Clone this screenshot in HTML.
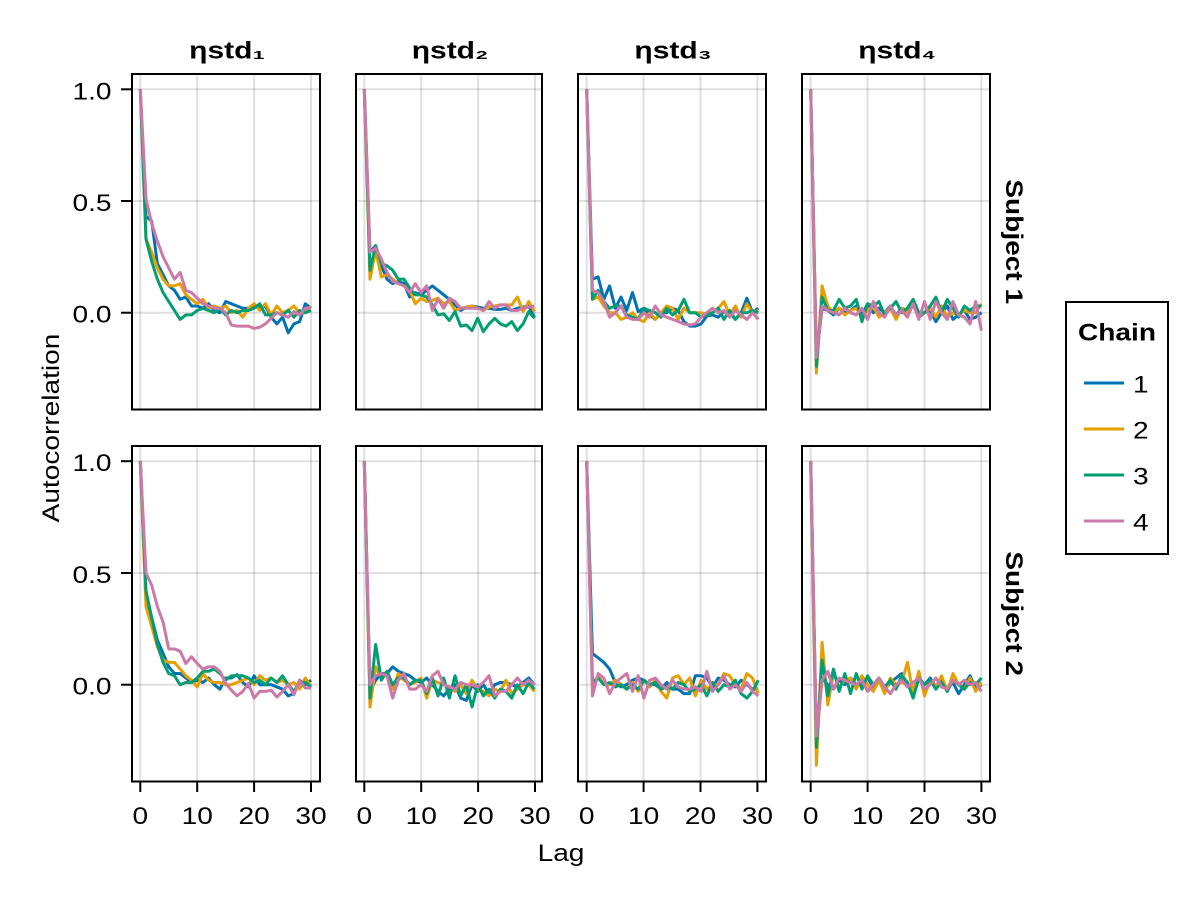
<!DOCTYPE html>
<html>
<head>
<meta charset="utf-8">
<style>
html,body{margin:0;padding:0;background:#fff;}
svg{display:block;}
text{font-family:"Liberation Sans","DejaVu Sans",sans-serif;font-size:24px;fill:#000;}
.b{font-weight:bold;}
.s{fill:none;stroke-width:3;vector-effect:non-scaling-stroke;stroke-linejoin:round;stroke-linecap:butt;}
.c1{stroke:#0072B2;}.c2{stroke:#E69F00;}.c3{stroke:#009E73;}.c4{stroke:#CC79A7;}
.g{stroke:rgba(0,0,0,0.12);stroke-width:2;}
.sp{fill:none;stroke:#000;stroke-width:2;}
.tk{stroke:#000;stroke-width:2;}
</style>
</head>
<body>
<svg width="1200" height="900" viewBox="0 0 1200 900" xmlns="http://www.w3.org/2000/svg">
<rect width="1200" height="900" fill="#fff"/>

<!-- grid lines -->
<g class="g">
<line x1="132" x2="320" y1="89.3" y2="89.3"/><line x1="132" x2="320" y1="201" y2="201"/><line x1="132" x2="320" y1="312.7" y2="312.7"/>
<line x1="356" x2="542" y1="89.3" y2="89.3"/><line x1="356" x2="542" y1="201" y2="201"/><line x1="356" x2="542" y1="312.7" y2="312.7"/>
<line x1="578" x2="766" y1="89.3" y2="89.3"/><line x1="578" x2="766" y1="201" y2="201"/><line x1="578" x2="766" y1="312.7" y2="312.7"/>
<line x1="802" x2="990" y1="89.3" y2="89.3"/><line x1="802" x2="990" y1="201" y2="201"/><line x1="802" x2="990" y1="312.7" y2="312.7"/>
<line x1="132" x2="320" y1="461.2" y2="461.2"/><line x1="132" x2="320" y1="573" y2="573"/><line x1="132" x2="320" y1="684.7" y2="684.7"/>
<line x1="356" x2="542" y1="461.2" y2="461.2"/><line x1="356" x2="542" y1="573" y2="573"/><line x1="356" x2="542" y1="684.7" y2="684.7"/>
<line x1="578" x2="766" y1="461.2" y2="461.2"/><line x1="578" x2="766" y1="573" y2="573"/><line x1="578" x2="766" y1="684.7" y2="684.7"/>
<line x1="802" x2="990" y1="461.2" y2="461.2"/><line x1="802" x2="990" y1="573" y2="573"/><line x1="802" x2="990" y1="684.7" y2="684.7"/>
<line x1="140.3" x2="140.3" y1="74" y2="409.5"/><line x1="197.2" x2="197.2" y1="74" y2="409.5"/><line x1="254.1" x2="254.1" y1="74" y2="409.5"/><line x1="311" x2="311" y1="74" y2="409.5"/>
<line x1="364.3" x2="364.3" y1="74" y2="409.5"/><line x1="421.2" x2="421.2" y1="74" y2="409.5"/><line x1="478.1" x2="478.1" y1="74" y2="409.5"/><line x1="535" x2="535" y1="74" y2="409.5"/>
<line x1="586.7" x2="586.7" y1="74" y2="409.5"/><line x1="643.6" x2="643.6" y1="74" y2="409.5"/><line x1="700.5" x2="700.5" y1="74" y2="409.5"/><line x1="757.4" x2="757.4" y1="74" y2="409.5"/>
<line x1="810.7" x2="810.7" y1="74" y2="409.5"/><line x1="867.6" x2="867.6" y1="74" y2="409.5"/><line x1="924.5" x2="924.5" y1="74" y2="409.5"/><line x1="981.4" x2="981.4" y1="74" y2="409.5"/>
<line x1="140.3" x2="140.3" y1="446" y2="781.5"/><line x1="197.2" x2="197.2" y1="446" y2="781.5"/><line x1="254.1" x2="254.1" y1="446" y2="781.5"/><line x1="311" x2="311" y1="446" y2="781.5"/>
<line x1="364.3" x2="364.3" y1="446" y2="781.5"/><line x1="421.2" x2="421.2" y1="446" y2="781.5"/><line x1="478.1" x2="478.1" y1="446" y2="781.5"/><line x1="535" x2="535" y1="446" y2="781.5"/>
<line x1="586.7" x2="586.7" y1="446" y2="781.5"/><line x1="643.6" x2="643.6" y1="446" y2="781.5"/><line x1="700.5" x2="700.5" y1="446" y2="781.5"/><line x1="757.4" x2="757.4" y1="446" y2="781.5"/>
<line x1="810.7" x2="810.7" y1="446" y2="781.5"/><line x1="867.6" x2="867.6" y1="446" y2="781.5"/><line x1="924.5" x2="924.5" y1="446" y2="781.5"/><line x1="981.4" x2="981.4" y1="446" y2="781.5"/>
</g>

<!-- R1C1 -->
<g transform="translate(140.3,312.7) scale(5.69,-223.5)">
<polyline class="s c1" points="0,1 1,.43 2,.41 3,.22 4,.17 5,.12 6,.10 7,.06 8,.07 9,.03 10,.03 11,.02 12,.04 13,.01 14,0 15,.05 16,.04 17,.03 18,.02 19,.02 20,.03 21,.02 22,.03 23,-.02 24,-.05 25,-.02 26,-.09 27,-.05 28,-.04 29,.04 30,.02"/>
<polyline class="s c2" points="0,1 1,.33 2,.27 3,.20 4,.15 5,.12 6,.12 7,.13 8,.08 9,.06 10,.04 11,.06 12,.02 13,.03 14,.02 15,.03 16,0 17,.01 18,-.02 19,.02 20,.04 21,.01 22,.04 23,-.01 24,.03 25,0 26,.01 27,.03 28,0 29,0 30,.03"/>
<polyline class="s c3" points="0,1 1,.33 2,.23 3,.15 4,.09 5,.05 6,.01 7,-.03 8,-.01 9,-.01 10,.01 11,.02 12,.01 13,0 14,.02 15,-.01 16,.01 17,0 18,.01 19,.01 20,.02 21,.04 22,-.01 23,-.01 24,0 25,-.01 26,.01 27,-.02 28,.01 29,0 30,.01"/>
<polyline class="s c4" points="0,1 1,.51 2,.40 3,.32 4,.25 5,.20 6,.15 7,.18 8,.10 9,.09 10,.065 11,.04 12,.03 13,.02 14,.02 15,0 16,-.055 17,-.06 18,-.06 19,-.06 20,-.07 21,-.065 22,-.05 23,-.025 24,0 25,-.01 26,-.02 27,.005 28,-.01 29,.02 30,.02"/>
</g>
<!-- R1C2 -->
<g transform="translate(364.3,312.7) scale(5.67,-223.5)">
<polyline class="s c1" points="0,1 1,.27 2,.30 3,.21 4,.15 5,.13 6,.14 7,.13 8,.07 9,.09 10,.08 11,.10 12,.12 13,.10 14,.08 15,.06 16,.035 17,.01 18,.025 19,.03 20,.025 21,.02 22,.02 23,.015 24,.015 25,.02 26,.01 27,.02 28,.025 29,.03 30,-.02"/>
<polyline class="s c2" points="0,1 1,.15 2,.28 3,.16 4,.17 5,.15 6,.13 7,.12 8,.10 9,.04 10,.065 11,.05 12,.055 13,.065 14,.04 15,.05 16,.01 17,.02 18,.025 19,.03 20,.02 21,.01 22,.027 23,.03 24,.035 25,.035 26,.035 27,.07 28,.005 29,.05 30,.005"/>
<polyline class="s c3" points="0,1 1,.19 2,.30 3,.22 4,.21 5,.19 6,.15 7,.15 8,.11 9,.08 10,.08 11,.07 12,.035 13,-.01 14,-.005 15,-.035 16,.005 17,-.06 18,-.055 19,-.08 20,-.025 21,-.085 22,-.05 23,-.025 24,-.05 25,-.06 26,-.04 27,-.08 28,-.05 29,.005 30,-.025"/>
<polyline class="s c4" points="0,1 1,.27 2,.29 3,.24 4,.18 5,.14 6,.13 7,.12 8,.09 9,.13 10,.09 11,.12 12,.01 13,.06 14,.02 15,.065 16,.05 17,.02 18,.02 19,.02 20,.02 21,.01 22,.05 23,.02 24,.035 25,.035 26,.01 27,.01 28,.02 29,.025 30,.03"/>
</g>
<!-- R1C3 -->
<g transform="translate(586.7,312.7) scale(5.72,-223.5)">
<polyline class="s c1" points="0,1 1,.15 2,.16 3,.06 4,.12 5,.02 6,.07 7,.01 8,.09 9,.005 10,.02 11,-.01 12,-.03 13,0 14,0 15,.02 16,.01 17,-.04 18,-.06 19,-.06 20,-.05 21,-.015 22,-.01 23,-.02 24,.005 25,0 26,-.03 27,0 28,.065 29,0 30,.02"/>
<polyline class="s c2" points="0,1 1,.06 2,.07 3,.03 4,0 5,0 6,-.03 7,-.02 8,0 9,-.03 10,-.04 11,0 12,-.03 13,0 14,.03 15,.02 16,-.03 17,.02 18,0 19,0 20,0 21,-.01 22,0 23,.02 24,.05 25,-.01 26,.03 27,-.02 28,.04 29,0 30,.01"/>
<polyline class="s c3" points="0,1 1,.06 2,.10 3,.05 4,.02 5,.03 6,.03 7,-.01 8,-.02 9,-.03 10,.02 11,.01 12,0 13,-.02 14,.02 15,-.01 16,.01 17,.06 18,0 19,0 20,-.02 21,-.01 22,0 23,.02 24,-.03 25,.01 26,-.03 27,0 28,0 29,.01 30,0"/>
<polyline class="s c4" points="0,1 1,.10 2,.09 3,.05 4,-.02 5,0 6,.03 7,-.02 8,-.03 9,-.03 10,0 11,-.02 12,.03 13,-.01 14,-.02 15,-.03 16,-.04 17,-.05 18,-.055 19,-.05 20,-.02 21,0 22,.02 23,0 24,.01 25,-.02 26,.01 27,-.01 28,-.03 29,0 30,-.03"/>
</g>
<!-- R1C4 -->
<g transform="translate(810.7,312.7) scale(5.69,-223.5)">
<polyline class="s c1" points="0,1 1,-.2 2,.02 3,.01 4,-.01 5,.02 6,0 7,.01 8,.03 9,-.01 10,.04 11,0 12,.02 13,0 14,.03 15,-.01 16,.02 17,.01 18,.04 19,-.02 20,0 21,.01 22,-.04 23,0 24,.03 25,-.03 26,-.01 27,.01 28,-.03 29,-.02 30,0"/>
<polyline class="s c2" points="0,1 1,-.27 2,.12 3,.03 4,0 5,.02 6,-.01 7,.01 8,.02 9,-.02 10,.01 11,.03 12,-.02 13,0 14,.02 15,-.03 16,.02 17,0 18,.03 19,-.01 20,0 21,.02 22,-.02 23,.03 24,-.02 25,0 26,-.01 27,.01 28,0 29,0 30,.04"/>
<polyline class="s c3" points="0,1 1,-.24 2,.07 3,.01 4,.01 5,.06 6,.02 7,.03 8,.06 9,-.04 10,.04 11,.03 12,.05 13,-.01 14,.02 15,.05 16,0 17,.02 18,.06 19,0 20,0 21,.03 22,.07 23,0 24,.06 25,.02 26,-.02 27,.03 28,.01 29,.03 30,.03"/>
<polyline class="s c4" points="0,1 1,-.2 2,.03 3,.01 4,0 5,-.01 6,.02 7,0 8,-.01 9,.02 10,-.03 11,.05 12,0 13,-.02 14,.03 15,-.01 16,.01 17,-.02 18,.04 19,-.03 20,.05 21,-.03 22,.05 23,0 24,-.03 25,.05 26,-.01 27,-.02 28,-.05 29,.05 30,-.08"/>
</g>

<!-- R2C1 -->
<g transform="translate(140.3,684.7) scale(5.69,-223.5)">
<polyline class="s c1" points="0,1 1,.38 2,.30 3,.20 4,.14 5,.08 6,.05 7,.05 8,.03 9,.01 10,.02 11,.01 12,.03 13,0 14,-.02 15,.03 16,.03 17,.045 18,.01 19,-.01 20,.04 21,0 22,0 23,0 24,-.01 25,-.02 26,-.05 27,-.04 28,.02 29,0 30,.02"/>
<polyline class="s c2" points="0,1 1,.35 2,.26 3,.17 4,.11 5,.10 6,.10 7,.07 8,.04 9,.02 10,-.01 11,.05 12,.02 13,.01 14,.01 15,0 16,0 17,.01 18,.02 19,.03 20,0 21,.04 22,.02 23,.03 24,.01 25,.02 26,0 27,.01 28,-.02 29,.03 30,-.01"/>
<polyline class="s c3" points="0,1 1,.42 2,.30 3,.18 4,.10 5,.05 6,.04 7,0 8,.01 9,.01 10,.03 11,.06 12,.06 13,.07 14,.05 15,.02 16,.04 17,.04 18,.04 19,.03 20,.01 21,.02 22,0 23,.03 24,.01 25,.04 26,0 27,-.03 28,.01 29,.01 30,-.01"/>
<polyline class="s c4" points="0,1 1,.50 2,.445 3,.35 4,.28 5,.16 6,.16 7,.15 8,.095 9,.125 10,.095 11,.07 12,.08 13,.08 14,.06 15,.006 16,-.025 17,-.05 18,-.03 19,.005 20,-.06 21,-.03 22,-.03 23,-.025 24,-.055 25,-.03 26,0 27,-.045 28,.02 29,-.015 30,-.015"/>
</g>
<!-- R2C2 -->
<g transform="translate(364.3,684.7) scale(5.67,-223.5)">
<polyline class="s c1" points="0,1 1,-.03 2,.02 3,.05 4,.05 5,.08 6,.06 7,.05 8,.04 9,.02 10,.01 11,.03 12,0 13,-.03 14,-.05 15,-.02 16,0 17,-.06 18,-.07 19,0 20,-.03 21,0 22,-.04 23,0 24,.01 25,.01 26,0 27,-.01 28,.01 29,.03 30,0"/>
<polyline class="s c2" points="0,1 1,-.10 2,.08 3,.03 4,.06 5,-.02 6,.05 7,.02 8,0 9,.01 10,.03 11,-.06 12,.02 13,.01 14,0 15,-.01 16,-.03 17,0 18,-.04 19,.02 20,-.02 21,-.03 22,-.05 23,-.02 24,-.03 25,.02 26,-.04 27,-.02 28,0 29,0 30,-.03"/>
<polyline class="s c3" points="0,1 1,-.06 2,.18 3,.02 4,.06 5,0 6,.03 7,.03 8,0 9,.02 10,.02 11,-.04 12,.03 13,-.05 14,.03 15,-.06 16,.04 17,-.05 18,0 19,-.10 20,0 21,-.05 22,-.02 23,-.06 24,-.02 25,-.03 26,-.06 27,0 28,-.04 29,.01 30,-.02"/>
<polyline class="s c4" points="0,1 1,0 2,.04 3,.05 4,.04 5,-.06 6,.02 7,.05 8,-.02 9,-.02 10,0 11,-.03 12,.04 13,.06 14,0 15,-.01 16,-.02 17,.01 18,0 19,0 20,-.01 21,.01 22,.04 23,-.05 24,-.03 25,-.03 26,0 27,.03 28,0 29,.02 30,0"/>
</g>
<!-- R2C3 -->
<g transform="translate(586.7,684.7) scale(5.72,-223.5)">
<polyline class="s c1" points="0,1 1,.14 2,.12 3,.10 4,.07 5,.01 6,-.01 7,0 8,.02 9,.03 10,.02 11,0 12,0 13,-.02 14,.01 15,-.02 16,-.02 17,-.04 18,-.04 19,.04 20,.04 21,.03 22,-.01 23,.03 24,.02 25,0 26,-.01 27,.02 28,0 29,-.02 30,-.02"/>
<polyline class="s c2" points="0,1 1,0 2,.04 3,0 4,0 5,.02 6,0 7,-.02 8,.01 9,-.03 10,.02 11,-.01 12,.02 13,-.03 14,-.06 15,.03 16,.04 17,0 18,.03 19,-.05 20,.02 21,-.02 22,0 23,0 24,.05 25,.04 26,0 27,-.02 28,.05 29,.03 30,-.04"/>
<polyline class="s c3" points="0,1 1,.01 2,.03 3,0 4,.01 5,-.01 6,0 7,-.02 8,0 9,-.02 10,.02 11,0 12,.01 13,-.02 14,-.01 15,-.02 16,.01 17,0 18,-.03 19,-.02 20,0 21,-.05 22,.01 23,-.03 24,0 25,-.01 26,.02 27,-.04 28,-.06 29,-.03 30,.02"/>
<polyline class="s c4" points="0,1 1,-.05 2,.05 3,.03 4,-.04 5,.01 6,.03 7,.05 8,-.03 9,.04 10,-.06 11,.02 12,.03 13,0 14,-.02 15,.02 16,-.01 17,-.02 18,-.02 19,-.01 20,-.03 21,.06 22,-.03 23,0 24,.04 25,-.02 26,0 27,-.03 28,.01 29,-.03 30,-.05"/>
</g>
<!-- R2C4 -->
<g transform="translate(810.7,684.7) scale(5.69,-223.5)">
<polyline class="s c1" points="0,1 1,-.25 2,.03 3,0 4,-.02 5,.02 6,0 7,.03 8,0 9,.01 10,.03 11,-.01 12,.02 13,-.02 14,.01 15,.03 16,.05 17,0 18,-.03 19,.02 20,0 21,.03 22,-.01 23,.02 24,-.02 25,.01 26,-.04 27,0 28,.04 29,-.02 30,0"/>
<polyline class="s c2" points="0,1 1,-.36 2,.19 3,-.09 4,.05 5,-.01 6,.02 7,.03 8,-.02 9,.04 10,0 11,-.03 12,.02 13,-.04 14,.03 15,0 16,.01 17,.10 18,-.04 19,.06 20,-.05 21,.02 22,-.01 23,.04 24,-.03 25,.05 26,0 27,-.02 28,.03 29,-.03 30,.01"/>
<polyline class="s c3" points="0,1 1,-.28 2,.11 3,-.05 4,.07 5,-.03 6,.05 7,-.04 8,.05 9,-.02 10,.04 11,0 12,.03 13,-.01 14,.02 15,-.02 16,.04 17,.01 18,-.06 19,.03 20,0 21,.02 22,-.02 23,.01 24,-.03 25,.02 26,0 27,-.02 28,.01 29,0 30,.03"/>
<polyline class="s c4" points="0,1 1,-.23 2,.02 3,.06 4,-.02 5,.03 6,.02 7,.01 8,0 9,.02 10,-.03 11,0 12,.03 13,-.01 14,-.04 15,0 16,.02 17,-.01 18,.01 19,.03 20,-.02 21,0 22,.03 23,-.01 24,-.02 25,.02 26,0 27,.02 28,0 29,.01 30,-.03"/>
</g>

<!-- spines -->
<rect class="sp" x="132" y="74" width="188" height="335.5"/>
<rect class="sp" x="356" y="74" width="186" height="335.5"/>
<rect class="sp" x="578" y="74" width="188" height="335.5"/>
<rect class="sp" x="802" y="74" width="188" height="335.5"/>
<rect class="sp" x="132" y="446" width="188" height="335.5"/>
<rect class="sp" x="356" y="446" width="186" height="335.5"/>
<rect class="sp" x="578" y="446" width="188" height="335.5"/>
<rect class="sp" x="802" y="446" width="188" height="335.5"/>

<!-- ticks -->
<g class="tk">
<line x1="121" x2="132" y1="89.3" y2="89.3"/><line x1="121" x2="132" y1="201" y2="201"/><line x1="121" x2="132" y1="312.7" y2="312.7"/>
<line x1="121" x2="132" y1="461.2" y2="461.2"/><line x1="121" x2="132" y1="573" y2="573"/><line x1="121" x2="132" y1="684.7" y2="684.7"/>
<line x1="140.3" x2="140.3" y1="781.5" y2="792"/><line x1="197.2" x2="197.2" y1="781.5" y2="792"/><line x1="254.1" x2="254.1" y1="781.5" y2="792"/><line x1="311" x2="311" y1="781.5" y2="792"/>
<line x1="364.3" x2="364.3" y1="781.5" y2="792"/><line x1="421.2" x2="421.2" y1="781.5" y2="792"/><line x1="478.1" x2="478.1" y1="781.5" y2="792"/><line x1="535" x2="535" y1="781.5" y2="792"/>
<line x1="586.7" x2="586.7" y1="781.5" y2="792"/><line x1="643.6" x2="643.6" y1="781.5" y2="792"/><line x1="700.5" x2="700.5" y1="781.5" y2="792"/><line x1="757.4" x2="757.4" y1="781.5" y2="792"/>
<line x1="810.7" x2="810.7" y1="781.5" y2="792"/><line x1="867.6" x2="867.6" y1="781.5" y2="792"/><line x1="924.5" x2="924.5" y1="781.5" y2="792"/><line x1="981.4" x2="981.4" y1="781.5" y2="792"/>
</g>

<!-- y tick labels -->
<g transform="translate(111.5,99.3) scale(1.17,1)"><text text-anchor="end">1.0</text></g>
<g transform="translate(111.5,211) scale(1.17,1)"><text text-anchor="end">0.5</text></g>
<g transform="translate(111.5,322.7) scale(1.17,1)"><text text-anchor="end">0.0</text></g>
<g transform="translate(111.5,471.2) scale(1.17,1)"><text text-anchor="end">1.0</text></g>
<g transform="translate(111.5,583) scale(1.17,1)"><text text-anchor="end">0.5</text></g>
<g transform="translate(111.5,694.7) scale(1.17,1)"><text text-anchor="end">0.0</text></g>

<!-- x tick labels -->
<g transform="translate(140.3,824) scale(1.17,1)"><text text-anchor="middle">0</text></g>
<g transform="translate(197.2,824) scale(1.17,1)"><text text-anchor="middle">10</text></g>
<g transform="translate(254.1,824) scale(1.17,1)"><text text-anchor="middle">20</text></g>
<g transform="translate(311,824) scale(1.17,1)"><text text-anchor="middle">30</text></g>
<g transform="translate(364.3,824) scale(1.17,1)"><text text-anchor="middle">0</text></g>
<g transform="translate(421.2,824) scale(1.17,1)"><text text-anchor="middle">10</text></g>
<g transform="translate(478.1,824) scale(1.17,1)"><text text-anchor="middle">20</text></g>
<g transform="translate(535,824) scale(1.17,1)"><text text-anchor="middle">30</text></g>
<g transform="translate(586.7,824) scale(1.17,1)"><text text-anchor="middle">0</text></g>
<g transform="translate(643.6,824) scale(1.17,1)"><text text-anchor="middle">10</text></g>
<g transform="translate(700.5,824) scale(1.17,1)"><text text-anchor="middle">20</text></g>
<g transform="translate(757.4,824) scale(1.17,1)"><text text-anchor="middle">30</text></g>
<g transform="translate(810.7,824) scale(1.17,1)"><text text-anchor="middle">0</text></g>
<g transform="translate(867.6,824) scale(1.17,1)"><text text-anchor="middle">10</text></g>
<g transform="translate(924.5,824) scale(1.17,1)"><text text-anchor="middle">20</text></g>
<g transform="translate(981.4,824) scale(1.17,1)"><text text-anchor="middle">30</text></g>

<!-- axis labels -->
<g transform="translate(561,861) scale(1.17,1)"><text text-anchor="middle">Lag</text></g>
<g transform="translate(59,428) rotate(-90) scale(1.17,1)"><text text-anchor="middle">Autocorrelation</text></g>

<!-- column titles -->
<g transform="translate(227,58.3) scale(1.25,1)"><text class="b" text-anchor="middle">ηstd₁</text></g>
<g transform="translate(450,58.3) scale(1.25,1)"><text class="b" text-anchor="middle">ηstd₂</text></g>
<g transform="translate(673,58.3) scale(1.25,1)"><text class="b" text-anchor="middle">ηstd₃</text></g>
<g transform="translate(897,58.3) scale(1.25,1)"><text class="b" text-anchor="middle">ηstd₄</text></g>

<!-- row labels -->
<g transform="translate(1006,241.7) rotate(90) scale(1.17,1)"><text class="b" text-anchor="middle">Subject 1</text></g>
<g transform="translate(1006,613.7) rotate(90) scale(1.17,1)"><text class="b" text-anchor="middle">Subject 2</text></g>

<!-- legend -->
<rect class="sp" x="1066" y="302" width="102" height="252" fill="#fff"/>
<g transform="translate(1117,340.7) scale(1.17,1)"><text class="b" text-anchor="middle">Chain</text></g>
<line x1="1084" x2="1124" y1="383" y2="383" stroke="#0072B2" stroke-width="3"/>
<line x1="1084" x2="1124" y1="429" y2="429" stroke="#E69F00" stroke-width="3"/>
<line x1="1084" x2="1124" y1="475" y2="475" stroke="#009E73" stroke-width="3"/>
<line x1="1084" x2="1124" y1="521" y2="521" stroke="#CC79A7" stroke-width="3"/>
<g transform="translate(1133,392.5) scale(1.17,1)"><text>1</text></g>
<g transform="translate(1133,438.5) scale(1.17,1)"><text>2</text></g>
<g transform="translate(1133,484.5) scale(1.17,1)"><text>3</text></g>
<g transform="translate(1133,530.5) scale(1.17,1)"><text>4</text></g>
</svg>
</body>
</html>
